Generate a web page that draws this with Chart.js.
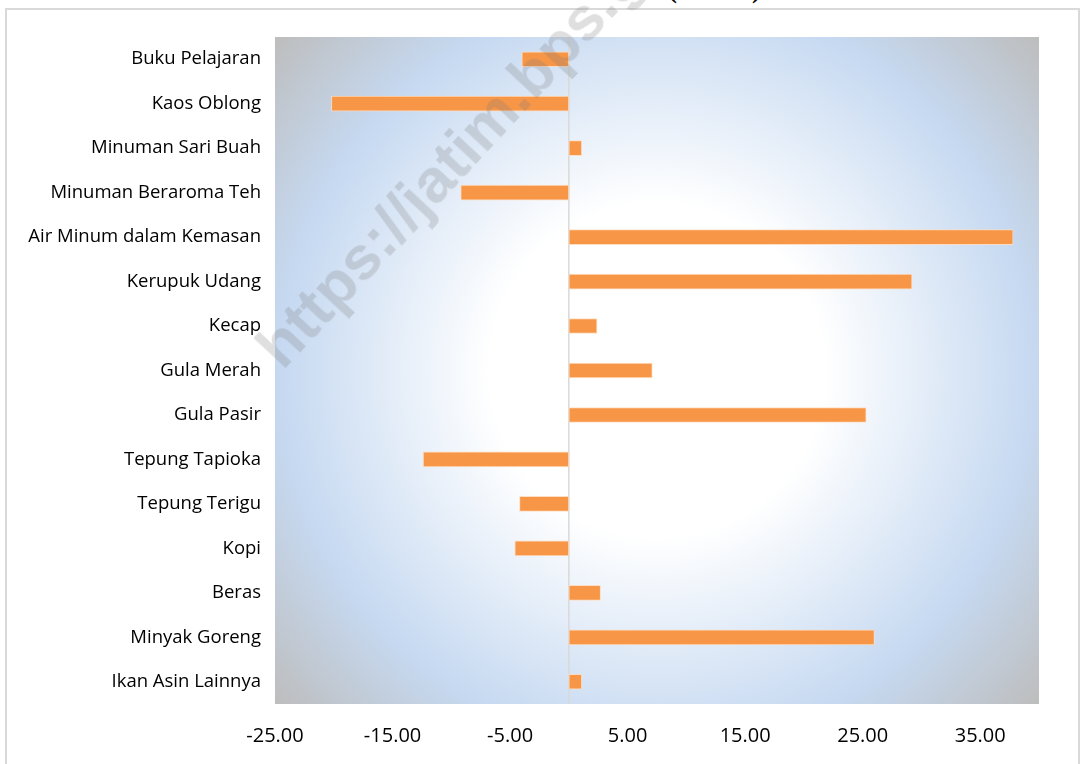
<!DOCTYPE html>
<html lang="id">
  <head>
    <meta charset="UTF-8" />
    <title>Perubahan Harga</title>
    <script src="https://cdn.jsdelivr.net/npm/chart.js@4/dist/chart.umd.min.js"></script>
    <style>
      body {
        margin: 0;
        background: #fff;
        overflow: hidden;
      }
      .wrap {
        position: relative;
        width: 1081px;
        height: 764px;
      }
      .frame {
        position: absolute;
        left: 5px;
        top: 8px;
        width: 1071px;
        height: 780px;
        border: 2px solid #d9d9d9;
      }
      .title {
        position: absolute;
        left: 0;
        width: 1232px;
        top: -23px;
        text-align: center;
        font: bold 26px/26px "Liberation Serif", serif;
        color: #000;
        white-space: nowrap;
      }
      .watermark {
        position: absolute;
        left: 290px;
        top: 316px;
        font: bold 62px/62px "Liberation Sans", Arial, sans-serif;
        color: rgba(120, 120, 120, 0.24);
        transform: rotate(-47deg);
        transform-origin: left bottom;
        white-space: nowrap;
        pointer-events: none;
      }
      canvas {
        position: absolute;
        left: 0;
        top: 0;
      }
    </style>
  </head>
  <body>
    <div class="wrap">
      <div class="frame"></div>
      <div class="title">Tahun 2019-2020 (Persen)</div>
      <canvas id="myChart" width="1081" height="764"></canvas>
      <div class="watermark">https://jatim.bps.go.id</div>
    </div>

    <script>
      const categories = [
        "Buku Pelajaran",
        "Kaos Oblong",
        "Minuman Sari Buah",
        "Minuman Beraroma Teh",
        "Air Minum dalam Kemasan",
        "Kerupuk Udang",
        "Kecap",
        "Gula Merah",
        "Gula Pasir",
        "Tepung Tapioka",
        "Tepung Terigu",
        "Kopi",
        "Beras",
        "Minyak Goreng",
        "Ikan Asin Lainnya",
      ];
      const perubahan = [
        -4.0, -20.2, 1.1, -9.2, 37.8, 29.2, 2.4, 7.1, 25.3, -12.4, -4.2, -4.6,
        2.7, 26.0, 1.1,
      ];
      const xTicks = [-25, -15, -5, 5, 15, 25, 35];

      // gradient fill behind the plot area, like the Excel preset
      const plotBg = {
        id: "plotBg",
        beforeDraw(chart) {
          const { ctx, chartArea: a } = chart;
          const cx = (a.left + a.right) / 2;
          const cy = (a.top + a.bottom) / 2;
          const r = Math.hypot(a.width, a.height) / 2;
          const g = ctx.createRadialGradient(cx, cy, 0, cx, cy, r);
          g.addColorStop(0, "#ffffff");
          g.addColorStop(0.33, "#ffffff");
          g.addColorStop(0.74, "#c6d9f1");
          g.addColorStop(1, "#bdbdbd");
          ctx.save();
          ctx.fillStyle = g;
          ctx.fillRect(a.left, a.top, a.width, a.height);
          ctx.restore();
        },
        beforeDatasetsDraw(chart) {
          const { ctx, chartArea: a } = chart;
          const x0 = chart.scales.x.getPixelForValue(0);
          ctx.save();
          ctx.strokeStyle = "#d9d9d9";
          ctx.lineWidth = 1.5;
          ctx.beginPath();
          ctx.moveTo(x0, a.top);
          ctx.lineTo(x0, a.bottom);
          ctx.stroke();
          ctx.restore();
        },
      };

      const ctx = document.getElementById("myChart").getContext("2d");
      const myChart = new Chart(ctx, {
        type: "bar",
        data: {
          labels: categories,
          datasets: [
            {
              data: perubahan,
              backgroundColor: "#f79646",
              borderColor: "rgba(255, 220, 190, 0.9)",
              borderWidth: 1,
              borderSkipped: false,
              barThickness: 15,
            },
          ],
        },
        options: {
          indexAxis: "y",
          responsive: false,
          animation: false,
          layout: {
            padding: { top: 37, right: 42, left: 0, bottom: 0 },
          },
          scales: {
            x: {
              min: -25,
              max: 40,
              grid: { display: false },
              border: { display: false },
              afterBuildTicks(scale) {
                scale.ticks = xTicks.map((v) => ({ value: v }));
              },
              afterFit(scale) {
                scale.height = 60;
              },
              ticks: {
                padding: 12,
                color: "#000",
                font: { family: "Open Sans", size: 20 },
                callback: (v) => Number(v).toFixed(2),
              },
            },
            y: {
              grid: { display: false, drawTicks: false },
              border: { display: false },
              afterFit(scale) {
                scale.width = 275;
              },
              ticks: {
                padding: 14,
                color: "#000",
                font: { family: "Open Sans", size: 18.5 },
              },
            },
          },
          plugins: {
            legend: { display: false },
            tooltip: { enabled: false },
          },
        },
        plugins: [plotBg],
      });
    </script>
  </body>
</html>
